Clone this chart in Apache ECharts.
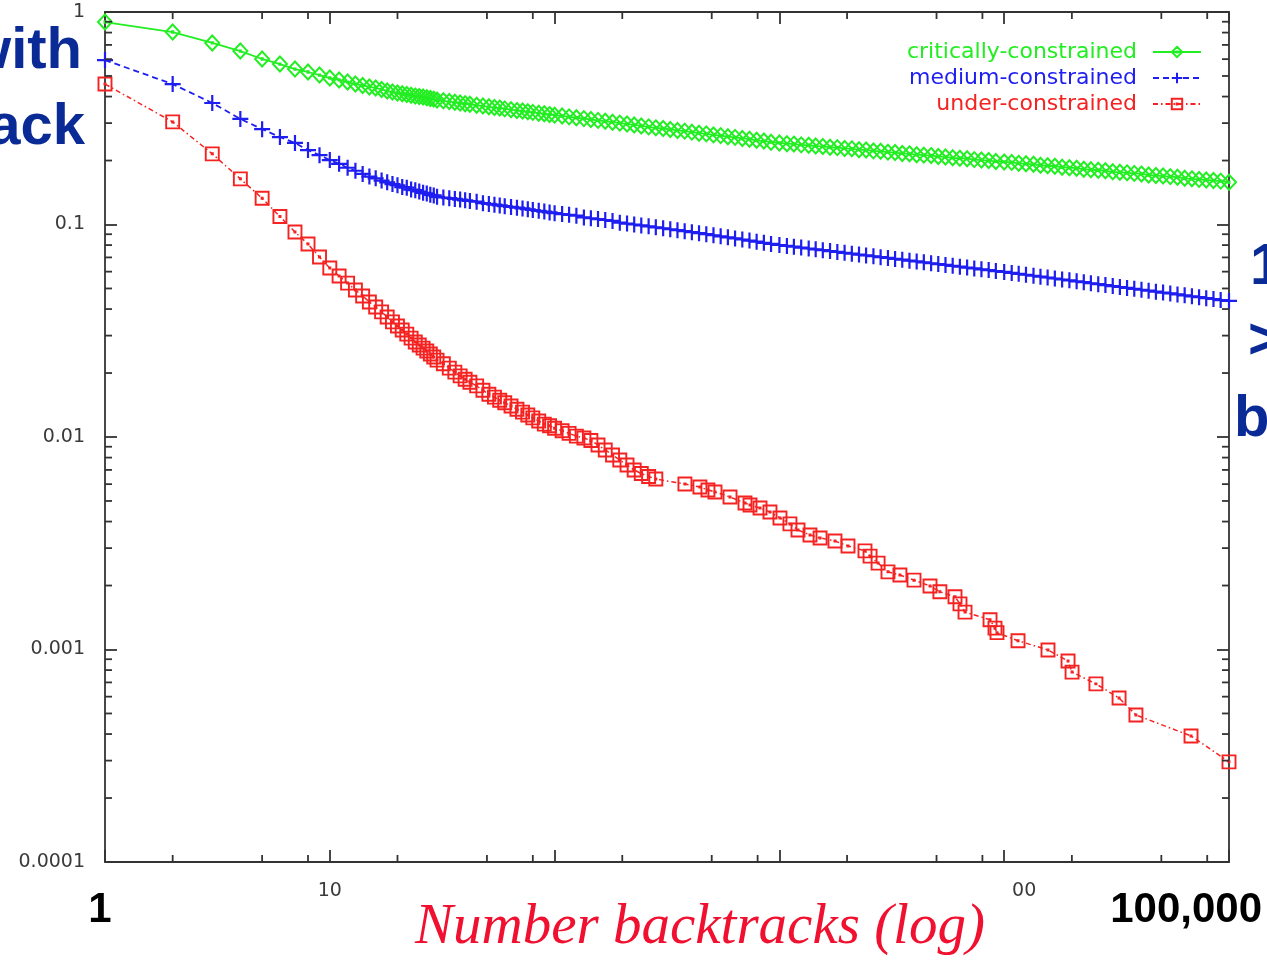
<!DOCTYPE html>
<html>
<head>
<meta charset="utf-8">
<script src="https://cdn.jsdelivr.net/npm/echarts@6/dist/echarts.min.js"></script>
<style>
html,body{margin:0;padding:0;background:#fff;}
#c{width:1267px;height:968px;}
</style>
</head>
<body>
<div id="c"></div>
<script>
// ---- axis ticks ----
const xMin = 1, xMax = 100000;
const yMin = 0.0001, yMax = 1;
const xMinorTicks = [2,5,8,20,50,80,200,500,800,2000,5000,8000,20000,50000,80000];
const yMinorTicks = [0.0002,0.0003,0.0004,0.0005,0.0006,0.0007,0.0008,0.0009,
                     0.002,0.003,0.004,0.005,0.006,0.007,0.008,0.009,
                     0.02,0.03,0.04,0.05,0.06,0.07,0.08,0.09,
                     0.2,0.3,0.4,0.5,0.6,0.7,0.8,0.9];
const yTickLabels = {'-4':'0.0001','-3':'0.001','-2':'0.01','-1':'0.1','0':'1'};
const xTickLabels = {'1':'10','4':'00'};

// ---- series names ----
const seriesNames = ['critically-constrained','medium-constrained','under-constrained'];

// ---- number of backtracks (shared by critically / medium) ----
const denseX = [1,2,3,4,5,6,7,8,9,10,11,12,13,14,15,16,17,18,19,20,21,22,23,24,25,26,27,28,29,30,
  32,34,36,38,40,42,45,48,51,54,57,60,64,68,72,76,80,85,90,95,
  100,108,116,125,135,145,156,168,181,195,210,226,243,262,282,304,327,352,379,408,439,473,509,548,590,635,684,736,792,853,918,
  1000,1080,1160,1250,1350,1450,1560,1680,1810,1950,2100,2260,2430,2620,2820,3040,3270,3520,3790,4080,4390,4730,5090,5480,5900,6350,6840,7360,7920,8530,9180,
  10000,10800,11600,12500,13500,14500,15600,16800,18100,19500,21000,22600,24300,26200,28200,30400,32700,35200,37900,40800,43900,47300,50900,54800,59000,63500,68400,73600,79200,85300,91800,
  100000];

const criticalY = [0.897,0.805,0.715,0.655,0.601,0.569,0.539,0.522,0.505,0.489,
  0.479,0.468,0.458,0.451,0.444,0.439,0.432,0.425,0.420,0.416,
  0.412,0.409,0.406,0.402,0.400,0.398,0.395,0.392,0.389,0.385,
  0.382,0.379,0.376,0.373,0.370,0.368,0.364,0.361,0.358,0.355,0.353,0.350,0.347,0.344,0.342,0.339,0.337,0.334,0.332,0.329,
  0.327,0.324,0.321,0.318,0.315,0.312,0.309,0.306,0.303,0.300,0.297,0.294,0.291,0.288,0.285,0.283,0.280,0.277,0.275,0.272,0.269,0.267,0.264,0.262,0.259,0.257,0.254,0.252,0.249,0.247,0.244,
  0.242,0.240,0.239,0.237,0.236,0.234,0.233,0.231,0.230,0.228,0.227,0.225,0.224,0.222,0.221,0.219,0.218,0.216,0.215,0.213,0.212,0.211,0.209,0.208,0.206,0.205,0.204,0.202,0.201,0.200,0.198,
  0.197,0.196,0.194,0.193,0.192,0.190,0.189,0.188,0.186,0.185,0.184,0.182,0.181,0.180,0.179,0.177,0.176,0.175,0.174,0.173,0.171,0.170,0.169,0.168,0.167,0.165,0.164,0.163,0.162,0.161,0.160,
  0.158];

const mediumY = [0.594,0.458,0.373,0.314,0.281,0.258,0.242,0.224,0.212,0.201,
  0.193,0.185,0.179,0.173,0.168,0.165,0.161,0.158,0.155,0.153,
  0.150,0.149,0.146,0.145,0.143,0.141,0.140,0.138,0.137,0.135,
  0.134,0.133,0.132,0.131,0.130,0.129,0.128,0.126,0.125,0.124,0.123,0.122,0.121,0.120,0.119,0.118,0.117,0.116,0.115,0.114,
  0.113,0.112,0.111,0.110,0.108,0.107,0.106,0.105,0.104,0.102,0.101,0.100,0.099,0.098,0.097,0.096,0.095,0.094,0.093,0.092,0.091,0.090,0.089,0.088,0.087,0.086,0.085,0.084,0.083,0.082,0.081,
  0.0801,0.0793,0.0786,0.0779,0.0771,0.0764,0.0757,0.0750,0.0743,0.0736,0.0729,0.0722,0.0715,0.0709,0.0702,0.0696,0.0689,0.0683,0.0676,0.0670,0.0664,0.0657,0.0651,0.0645,0.0639,0.0633,0.0627,0.0621,0.0615,0.0610,0.0604,
  0.0598,0.0592,0.0586,0.0580,0.0574,0.0568,0.0563,0.0557,0.0551,0.0546,0.0540,0.0535,0.0529,0.0524,0.0519,0.0513,0.0508,0.0503,0.0498,0.0493,0.0488,0.0483,0.0478,0.0474,0.0469,0.0464,0.0459,0.0455,0.0450,0.0446,0.0441,
  0.0437];

// ---- under-constrained ----
const underX = [1,2,3,4,5,6,7,8,9,10,11,12,13,14,15,16,17,18,19,20,21,22,23,24,25,26,27,28,29,30,
  32,34,36,38,40,42,45,48,51,54,57,60,64,68,72,76,80,85,90,95,
  100,108,116,125,135,145,156,168,181,195,210,226,243,262,282,
  380,443,481,517,603,703,740,820,908,1006,1114,1210,1368,1517,1767,2019,2403,2531,2748,3041,3436,3970,4677,5176,6042,6358,6695,8650,9100,9290,11520,15660,19230,20040,25590,32430,38550,67770,100000];

const underY = [0.458,0.304,0.215,0.164,0.133,0.109,0.0922,0.0809,0.0703,0.0624,
  0.0572,0.0530,0.0492,0.0461,0.0432,0.0409,0.0388,0.0367,0.0348,0.0333,
  0.0319,0.0305,0.0292,0.0280,0.0271,0.0262,0.0254,0.0246,0.0238,0.0230,
  0.0221,0.0211,0.0202,0.0194,0.0187,0.0181,0.0174,0.0166,0.0159,0.0154,0.0149,0.0145,0.0140,0.0135,0.0131,0.0127,0.0123,0.0119,0.0115,0.0113,
  0.0110,0.0107,0.0104,0.0101,0.00989,0.00963,0.00917,0.00869,0.00823,0.00779,0.00738,0.00699,0.00673,0.00652,0.00634,
  0.00601,0.00582,0.00563,0.00551,0.00522,0.00489,0.00479,0.00463,0.00444,0.00416,0.00390,0.00365,0.00346,0.00335,0.00324,0.00307,0.00291,0.00275,0.00255,0.00232,0.00224,0.00212,0.00199,0.00187,0.00177,0.00164,0.00150,0.00138,0.00126,0.00120,0.00110,0.000995,0.000883,0.000783,0.000689,0.000591,0.000492,0.000392,0.000296];

// ---- styles ----
const GREEN = '#22ee22', BLUE = '#1e1ef0', RED = '#f52222', AXIS = '#333333';
const SLIDE_BLUE = '#0a2a96';
const DIAMOND = 'path://M6,0L12,6L6,12L0,6Z M5.5,5.5L6.5,5.5L6.5,6.5L5.5,6.5Z';
const PLUS = 'path://M0,6L12,6M6,0L6,12';
const BOXDOT = 'path://M0,0L12,0L12,12L0,12Z M5.5,5.5L6.5,5.5L6.5,6.5L5.5,6.5Z';
const toPoints = (xs, ys) => xs.map((x, i) => [x, ys[i]]);
if (denseX.length !== criticalY.length || denseX.length !== mediumY.length || underX.length !== underY.length) {
  console.error('length mismatch', denseX.length, criticalY.length, mediumY.length, underX.length, underY.length);
}

const chart = echarts.init(document.getElementById('c'), null, {renderer: 'canvas'});

const axisCommon = {
  type: 'log', logBase: 10,
  axisLine: {show: true, lineStyle: {color: AXIS, width: 1.8}},
  axisTick: {show: true, inside: true, length: 12, lineStyle: {color: AXIS, width: 1.8}},
  splitLine: {show: false},
  minorTick: {show: false}
};

const tickLen = 7;
const labelFont = {color: '#3a3a3a', fontFamily: 'DejaVu Sans', fontSize: 19};
const option = {
  backgroundColor: '#fff',
  animation: false,
  grid: {left: 105, right: 38, top: 12, bottom: 106, containLabel: false},
  xAxis: [
    Object.assign({}, axisCommon, {
      min: xMin, max: xMax, splitNumber: 5, position: 'bottom',
      axisLabel: Object.assign({
        show: true, margin: 20,
        formatter: v => {
          const k = String(Math.round(Math.log10(v)));
          if (k === '4') return '{s|' + xTickLabels[k] + '}';
          return xTickLabels[k] || '';
        },
        rich: {s: Object.assign({padding: [0, 0, 0, 40]}, labelFont)}
      }, labelFont)
    }),
    Object.assign({}, axisCommon, {
      min: xMin, max: xMax, splitNumber: 5, position: 'top', axisLabel: {show: false}
    })
  ],
  yAxis: [
    Object.assign({}, axisCommon, {
      min: yMin, max: yMax, splitNumber: 4, position: 'left',
      axisLabel: Object.assign({
        show: true, margin: 20,
        formatter: v => yTickLabels[String(Math.round(Math.log10(v)))] || ''
      }, labelFont)
    }),
    Object.assign({}, axisCommon, {
      min: yMin, max: yMax, splitNumber: 4, position: 'right', axisLabel: {show: false}
    })
  ],
  legend: seriesNames.map((n, i) => ({
    data: [n],
    orient: 'vertical',
    align: 'right',
    right: 60,
    top: 36 + i * 26,
    itemWidth: 48,
    itemHeight: 13,
    selectedMode: false,
    textStyle: {color: [GREEN, BLUE, RED][i], fontFamily: 'DejaVu Sans', fontSize: 22, padding: [0, 11, 0, 0]}
  })),
  series: [
    {
      name: seriesNames[0], type: 'line', data: toPoints(denseX, criticalY),
      symbol: DIAMOND, symbolSize: [14, 15], showAllSymbol: true, z: 4,
      itemStyle: {color: 'transparent', borderColor: GREEN, borderWidth: 2},
      lineStyle: {color: GREEN, width: 1.8, type: 'solid'},
      emphasis: {disabled: true}
    },
    {
      name: seriesNames[1], type: 'line', data: toPoints(denseX, mediumY),
      symbol: PLUS, symbolSize: 16, showAllSymbol: true, z: 3,
      itemStyle: {color: 'transparent', borderColor: BLUE, borderWidth: 2.2},
      lineStyle: {color: BLUE, width: 1.8, type: [6, 4]},
      emphasis: {disabled: true}
    },
    {
      name: seriesNames[2], type: 'line', data: toPoints(underX, underY),
      symbol: BOXDOT, symbolSize: 13, showAllSymbol: true, z: 2,
      itemStyle: {color: 'transparent', borderColor: RED, borderWidth: 1.9},
      lineStyle: {color: RED, width: 1.5, type: [5, 3, 1.5, 3]},
      emphasis: {disabled: true}
    },
    {
      name: 'xMinor', type: 'custom', silent: true, clip: false, z: 6,
      data: xMinorTicks.map(v => [v, yMax]),
      renderItem: (params, api) => {
        const v = api.value(0);
        const b = api.coord([v, yMin]);
        const t = api.coord([v, yMax]);
        return {type: 'group', children: [
          {type: 'line', shape: {x1: b[0], y1: b[1], x2: b[0], y2: b[1] - tickLen}, style: {stroke: AXIS, lineWidth: 1.8}},
          {type: 'line', shape: {x1: t[0], y1: t[1], x2: t[0], y2: t[1] + tickLen}, style: {stroke: AXIS, lineWidth: 1.8}}
        ]};
      }
    },
    {
      name: 'yMinor', type: 'custom', silent: true, clip: false, z: 6,
      data: yMinorTicks.map(v => [xMax, v]),
      renderItem: (params, api) => {
        const v = api.value(1);
        const l = api.coord([xMin, v]);
        const r = api.coord([xMax, v]);
        return {type: 'group', children: [
          {type: 'line', shape: {x1: l[0], y1: l[1], x2: l[0] + tickLen, y2: l[1]}, style: {stroke: AXIS, lineWidth: 1.8}},
          {type: 'line', shape: {x1: r[0], y1: r[1], x2: r[0] - tickLen, y2: r[1]}, style: {stroke: AXIS, lineWidth: 1.8}}
        ]};
      }
    }
  ],
  graphic: [
    {type: 'text', x: 82, y: 52, z: 100, style: {text: 'with', fill: SLIDE_BLUE, font: 'bold 58px "Liberation Sans", Arial, sans-serif', textAlign: 'right', textVerticalAlign: 'middle', align: 'right', verticalAlign: 'middle'}},
    {type: 'text', x: 85, y: 128, z: 100, style: {text: 'ack', fill: SLIDE_BLUE, font: 'bold 58px "Liberation Sans", Arial, sans-serif', textAlign: 'right', textVerticalAlign: 'middle', align: 'right', verticalAlign: 'middle'}},
    {type: 'text', x: 1250, y: 268, z: 100, style: {text: '1', fill: SLIDE_BLUE, font: 'bold 58px "Liberation Sans", Arial, sans-serif', textAlign: 'left', textVerticalAlign: 'middle', align: 'left', verticalAlign: 'middle'}},
    {type: 'text', x: 1248, y: 342, z: 100, style: {text: '>', fill: SLIDE_BLUE, font: 'bold 58px "Liberation Sans", Arial, sans-serif', textAlign: 'left', textVerticalAlign: 'middle', align: 'left', verticalAlign: 'middle'}},
    {type: 'text', x: 1234, y: 420, z: 100, style: {text: 'b', fill: SLIDE_BLUE, font: 'bold 58px "Liberation Sans", Arial, sans-serif', textAlign: 'left', textVerticalAlign: 'middle', align: 'left', verticalAlign: 'middle'}},
    {type: 'text', x: 100, y: 910, z: 100, style: {text: '1', fill: '#000', font: 'bold 42px "Liberation Sans", Arial, sans-serif', textAlign: 'center', textVerticalAlign: 'middle', align: 'center', verticalAlign: 'middle'}},
    {type: 'text', x: 1262, y: 910, z: 100, style: {text: '100,000', fill: '#000', font: 'bold 42px "Liberation Sans", Arial, sans-serif', textAlign: 'right', textVerticalAlign: 'middle', align: 'right', verticalAlign: 'middle'}},
    {type: 'text', x: 700, y: 928, z: 100, style: {text: 'Number backtracks (log)', fill: '#f01030', font: 'italic 57px "Liberation Serif", "DejaVu Serif", serif', textAlign: 'center', textVerticalAlign: 'middle', align: 'center', verticalAlign: 'middle'}}
  ]
};
chart.setOption(option);
</script>
</body>
</html>
